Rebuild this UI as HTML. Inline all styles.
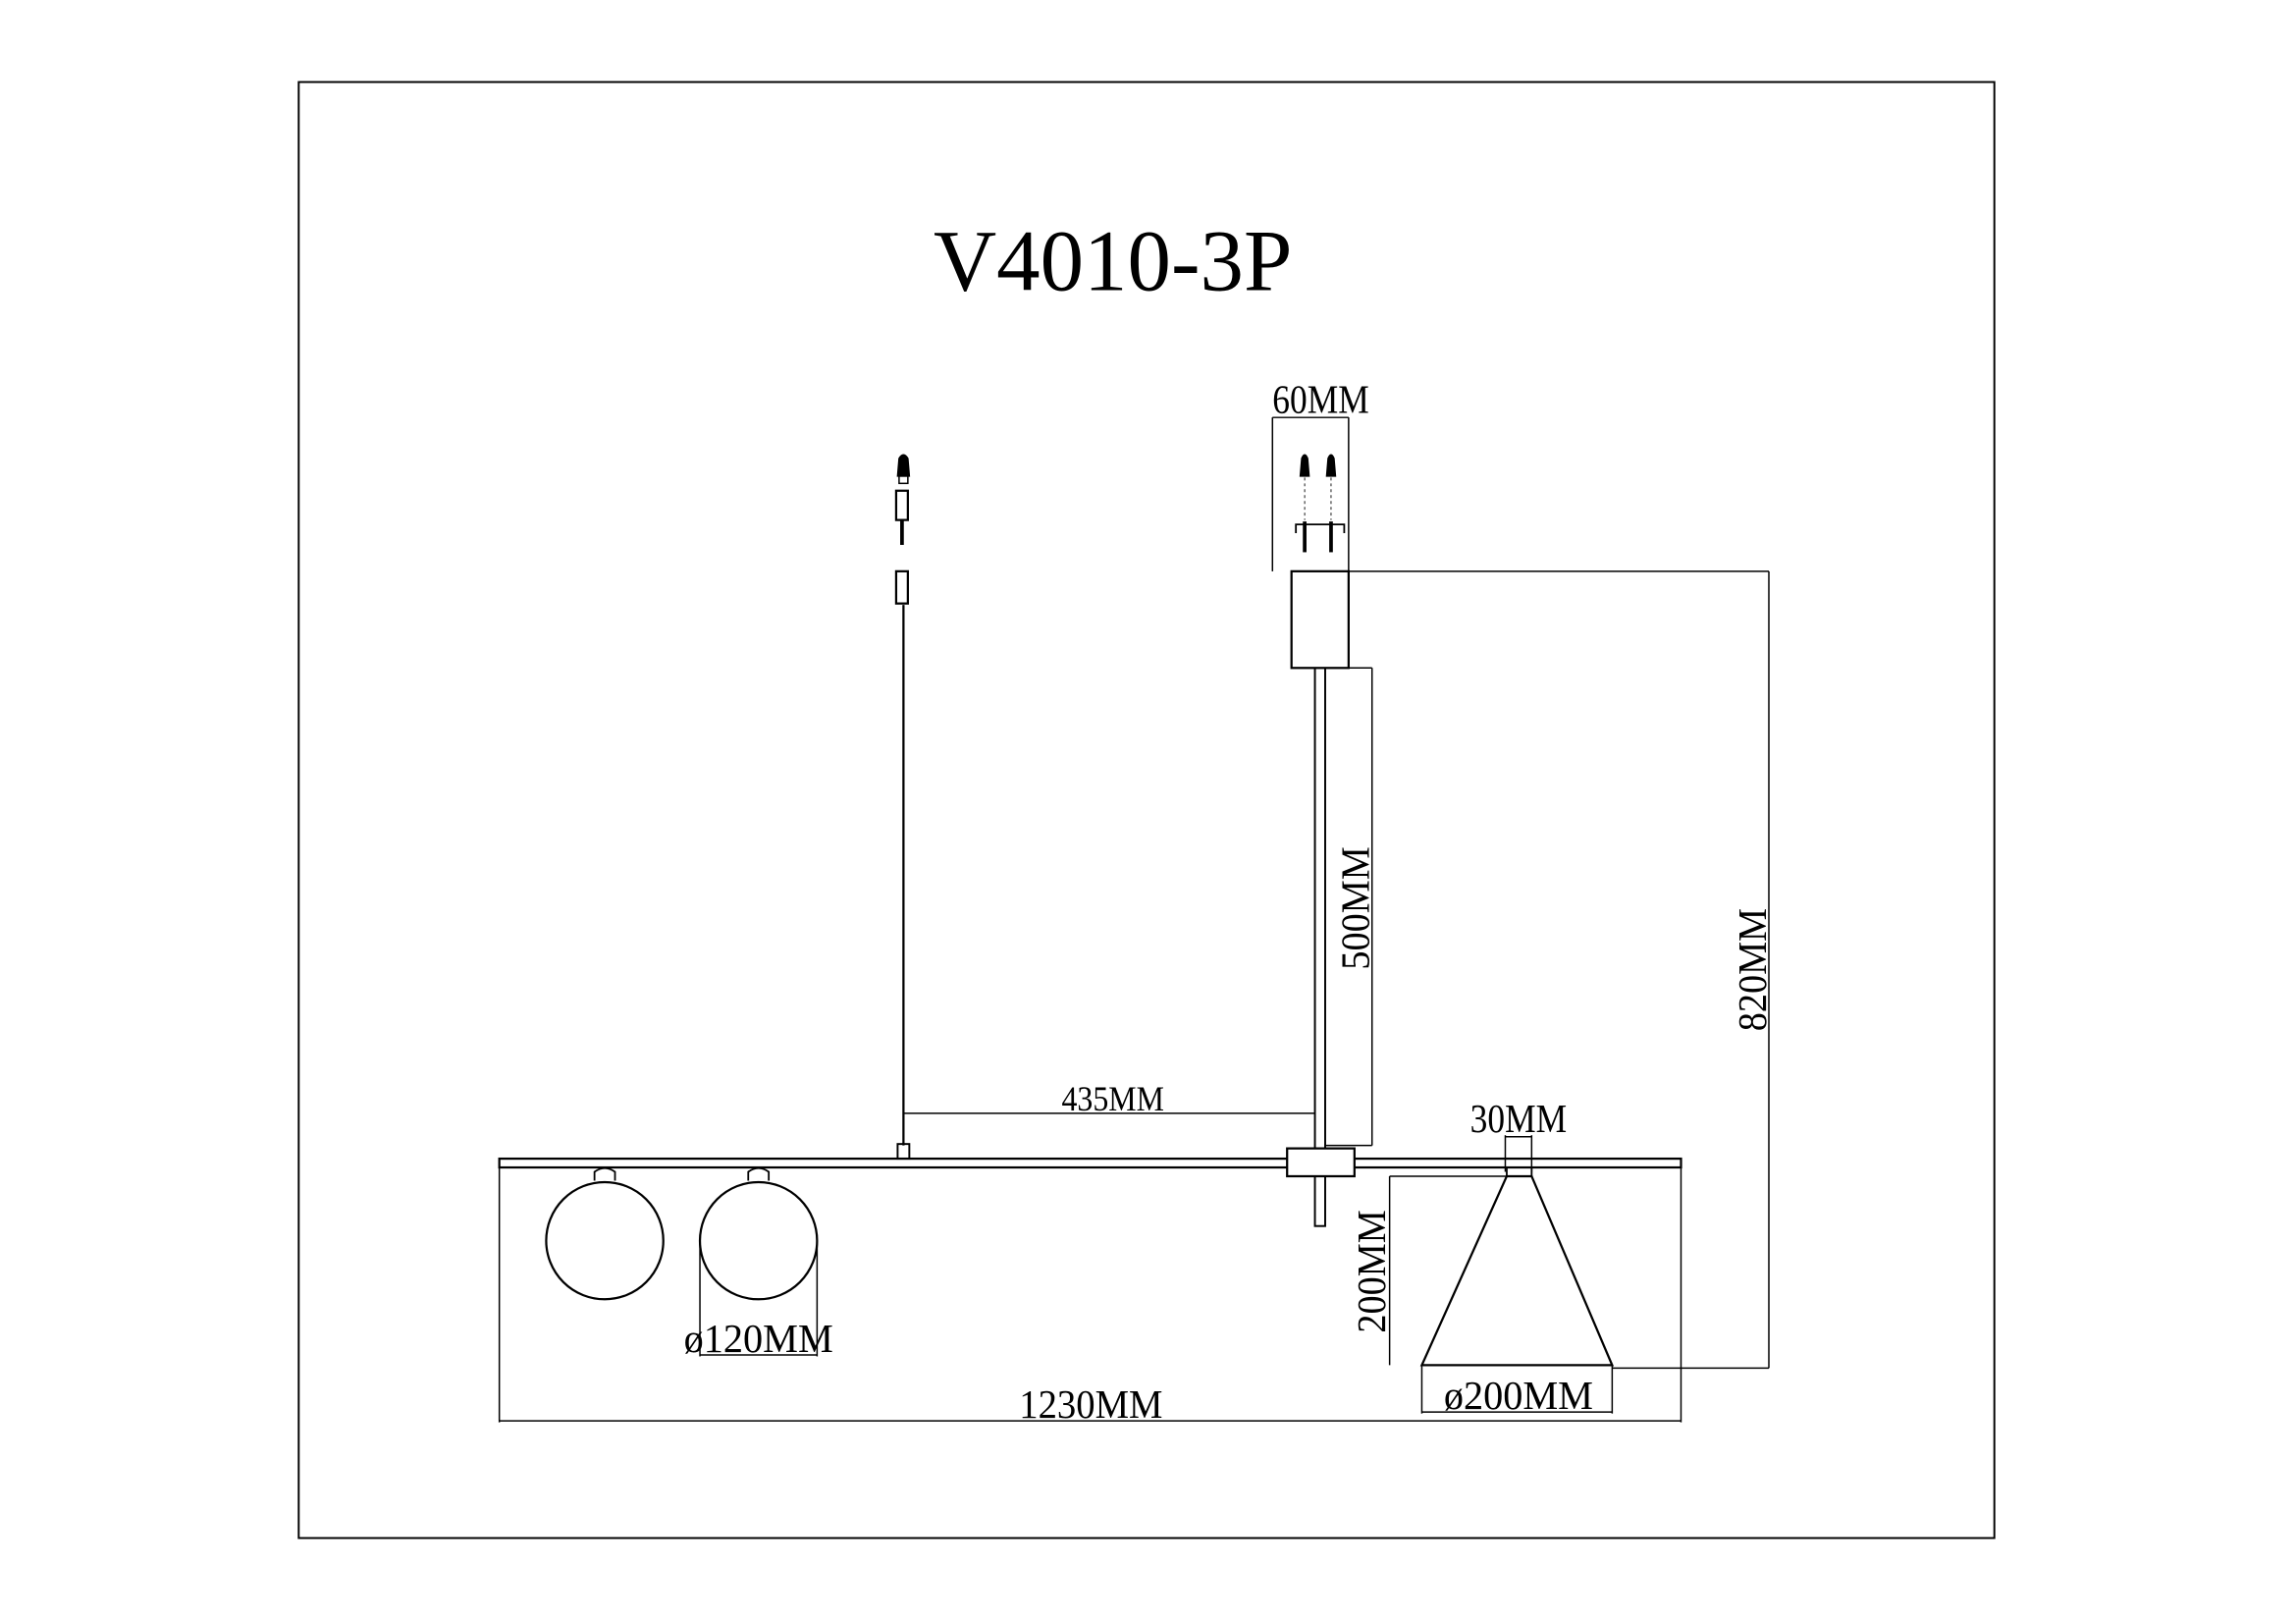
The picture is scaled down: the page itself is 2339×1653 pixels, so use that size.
<!DOCTYPE html>
<html><head><style>html,body{margin:0;padding:0;background:#fff}svg{display:block}
text{font-family:"Liberation Serif",serif;fill:#000}</style></head><body>
<svg width="2339" height="1653" viewBox="0 0 1568 1108" preserveAspectRatio="none" xmlns="http://www.w3.org/2000/svg">
<rect x="0" y="0" width="1568" height="1108" fill="#fff"/>
<rect x="204" y="56" width="1158" height="994" fill="none" stroke="#000" stroke-width="1.3"/>
<text x="760" y="198" font-size="60" text-anchor="middle" textLength="245" lengthAdjust="spacingAndGlyphs">V4010-3P</text>
<g stroke="#000" fill="none">
<!-- left suspension -->
<line x1="617" y1="413" x2="617" y2="782" stroke-width="1.5"/>
<path d="M614,313 Q617,308 620,313 L621,325 L613,325 Z" fill="#000" stroke-width="1"/>
<rect x="614" y="325" width="6" height="5" stroke-width="1"/>
<rect x="612" y="335" width="8" height="20" stroke-width="1.5"/>
<line x1="616" y1="355" x2="616" y2="372" stroke-width="2.5"/>
<rect x="612" y="390" width="8" height="22" stroke-width="1.5"/>
<rect x="613" y="781" width="8" height="10" stroke-width="1.3"/>
<!-- canopy -->
<line x1="869" y1="285" x2="921" y2="285" stroke-width="1"/>
<line x1="869" y1="285" x2="869" y2="390" stroke-width="1"/>
<line x1="921" y1="285" x2="921" y2="390" stroke-width="1"/>
<path d="M889,313 Q891,308 893,313 L894,325 L888,325 Z" fill="#000" stroke-width="1"/>
<path d="M907,313 Q909,308 911,313 L912,325 L906,325 Z" fill="#000" stroke-width="1"/>
<line x1="891" y1="326" x2="891" y2="355" stroke-width="0.6" stroke-dasharray="2,2"/>
<line x1="909" y1="326" x2="909" y2="355" stroke-width="0.6" stroke-dasharray="2,2"/>
<path d="M885,364 L885,358 L918,358 L918,364" stroke-width="1.2"/>
<line x1="891" y1="356" x2="891" y2="377" stroke-width="2.5"/>
<line x1="909" y1="356" x2="909" y2="377" stroke-width="2.5"/>
<rect x="882" y="390" width="39" height="66" stroke-width="1.5"/>
<line x1="898" y1="456" x2="898" y2="784" stroke-width="1.3"/>
<line x1="905" y1="456" x2="905" y2="784" stroke-width="1.3"/>
<!-- 500 -->
<line x1="921" y1="456" x2="937" y2="456" stroke-width="1"/>
<line x1="937" y1="456" x2="937" y2="782" stroke-width="1"/>
<line x1="905" y1="782" x2="937" y2="782" stroke-width="1"/>
<!-- 820 -->
<line x1="921" y1="390" x2="1208" y2="390" stroke-width="1"/>
<line x1="1208" y1="390" x2="1208" y2="934" stroke-width="1"/>
<line x1="1101" y1="934" x2="1208" y2="934" stroke-width="1"/>
<!-- bar -->
<rect x="341" y="791" width="807" height="6" stroke-width="1.5"/>
<rect x="879" y="784" width="46" height="19" fill="#fff" stroke-width="1.5"/>
<rect x="898" y="803" width="7" height="34" stroke-width="1.3"/>
<!-- 435 -->
<line x1="617" y1="760" x2="898" y2="760" stroke-width="1"/>
<!-- globes -->
<circle cx="413" cy="847" r="40" stroke-width="1.5"/>
<circle cx="518" cy="847" r="40" stroke-width="1.5"/>
<path d="M406,806 L406,800 Q413,795 420,800 L420,806" stroke-width="1.2"/>
<path d="M511,806 L511,800 Q518,795 525,800 L525,806" stroke-width="1.2"/>
<line x1="478" y1="847" x2="478" y2="926" stroke-width="1"/>
<line x1="558" y1="847" x2="558" y2="926" stroke-width="1"/>
<line x1="478" y1="925" x2="558" y2="925" stroke-width="1"/>
<!-- 1230 -->
<line x1="341" y1="797" x2="341" y2="971" stroke-width="1"/>
<line x1="1148" y1="797" x2="1148" y2="971" stroke-width="1"/>
<line x1="341" y1="970" x2="1148" y2="970" stroke-width="1"/>
<!-- cone -->
<rect x="1029" y="797" width="17" height="6" stroke-width="1.2"/>
<path d="M1029,803 L1046,803 L1101,932 L971,932 Z" stroke-width="1.5"/>
<line x1="1028" y1="775" x2="1028" y2="800" stroke-width="1"/>
<line x1="1046" y1="775" x2="1046" y2="800" stroke-width="1"/>
<line x1="1028" y1="776" x2="1046" y2="776" stroke-width="1"/>
<line x1="949" y1="803" x2="1029" y2="803" stroke-width="1"/>
<line x1="949" y1="803" x2="949" y2="932" stroke-width="1"/>
<line x1="971" y1="932" x2="971" y2="965" stroke-width="1"/>
<line x1="1101" y1="932" x2="1101" y2="965" stroke-width="1"/>
<line x1="971" y1="964" x2="1101" y2="964" stroke-width="1"/>
</g>
<g font-size="28">
<text x="902" y="282" text-anchor="middle" textLength="66" lengthAdjust="spacingAndGlyphs">60MM</text>
<text x="760" y="758" text-anchor="middle" textLength="70" lengthAdjust="spacingAndGlyphs" font-size="24">435MM</text>
<text x="1037" y="773" text-anchor="middle" textLength="66" lengthAdjust="spacingAndGlyphs">30MM</text>
<text x="518" y="923" text-anchor="middle" textLength="102" lengthAdjust="spacingAndGlyphs">ø120MM</text>
<text x="745" y="968" text-anchor="middle" textLength="98" lengthAdjust="spacingAndGlyphs">1230MM</text>
<text x="1037" y="962" text-anchor="middle" textLength="102" lengthAdjust="spacingAndGlyphs">ø200MM</text>
<text transform="translate(935,620) rotate(-90)" text-anchor="middle" textLength="84" lengthAdjust="spacingAndGlyphs">500MM</text>
<text transform="translate(1206,662) rotate(-90)" text-anchor="middle" textLength="84" lengthAdjust="spacingAndGlyphs">820MM</text>
<text transform="translate(946,868) rotate(-90)" text-anchor="middle" textLength="84" lengthAdjust="spacingAndGlyphs">200MM</text>
</g>
</svg>
</body></html>
